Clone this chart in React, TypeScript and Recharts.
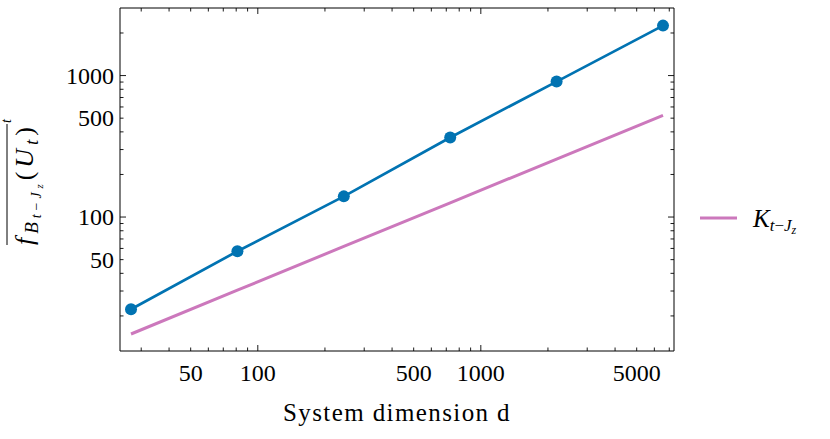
import React from 'react';
import { LineChart, Line, XAxis, YAxis, Legend } from 'recharts';

// system dimension d = 3^n
const dims = [27, 81, 243, 729, 2187, 6561];
const boundValues = [22.3, 57.3, 140, 365, 907, 2255];
const kValues = [14.9, 30.4, 62, 126, 257, 523];

const xTicks = [30, 40, 50, 60, 70, 80, 90, 100, 200, 300, 400, 500, 600, 700, 800, 900, 1000, 2000, 3000, 4000, 5000, 6000, 7000];
const xLabels = [50, 100, 500, 1000, 5000];
const yTicks = [20, 30, 40, 50, 60, 70, 80, 90, 100, 200, 300, 400, 500, 600, 700, 800, 900, 1000, 2000];
const yLabels = [50, 100, 500, 1000];
const majorTicks = [100, 1000];

const xDomain = [24.1, 7350];
const yDomain = [11.3, 3004];

const BLUE = '#0173B2';
const PINK = '#CC78BC';
const FONT = '"Liberation Serif", "Times New Roman", serif';

const data = dims.map((d, i) => ({ d, bound: boundValues[i], k: kValues[i] }));

const tickLen = (v: number) => (majorTicks.includes(v) ? 6 : 3.5);

const BottomTick = ({ x, y, payload }: any) => {
  const v = payload.value;
  return (
    <g>
      <line x1={x} x2={x} y1={y} y2={y - tickLen(v)} stroke="#000" strokeWidth={0.9} />
      {xLabels.includes(v) && (
        <text x={x} y={y + 30} textAnchor="middle" fontSize={24} fontFamily={FONT} fill="#000">
          {v}
        </text>
      )}
    </g>
  );
};

const TopTick = ({ x, y, payload }: any) => (
  <line x1={x} x2={x} y1={y} y2={y + tickLen(payload.value)} stroke="#000" strokeWidth={0.9} />
);

const LeftTick = ({ x, y, payload }: any) => {
  const v = payload.value;
  return (
    <g>
      <line x1={x} x2={x + tickLen(v)} y1={y} y2={y} stroke="#000" strokeWidth={0.9} />
      {yLabels.includes(v) && (
        <text x={x - 6} y={y + 8} textAnchor="end" fontSize={24} fontFamily={FONT} fill="#000">
          {v}
        </text>
      )}
    </g>
  );
};

const RightTick = ({ x, y, payload }: any) => (
  <line x1={x} x2={x - tickLen(payload.value)} y1={y} y2={y} stroke="#000" strokeWidth={0.9} />
);

const XTitle = () => (
  <text x={397} y={421} textAnchor="middle" fontSize={25} letterSpacing={1.4} fontFamily={FONT} fill="#000">
    System dimension d
  </text>
);

// overline{ f_{B_{t-J_z}}(U_t) }^t, rotated
const YTitle = () => (
  <g transform="translate(33,245) rotate(-90)" fontFamily={FONT} fill="#000">
    <text x={0} y={0} fontSize={26} fontStyle="italic" textLength={118} lengthAdjust="spacing">
      <tspan>f</tspan>
      <tspan fontSize={19} dy={5}>B</tspan>
      <tspan fontSize={14} dy={3}>t</tspan>
      <tspan fontSize={14} fontStyle="normal">−</tspan>
      <tspan fontSize={14}>J</tspan>
      <tspan fontSize={11} dy={2}>z</tspan>
      <tspan fontStyle="normal" dy={-10}>(</tspan>
      <tspan>U</tspan>
      <tspan fontSize={19} dy={5}>t</tspan>
      <tspan fontStyle="normal" dy={-5}>)</tspan>
    </text>
    <line x1={0} x2={121} y1={-26} y2={-26} stroke="#000" strokeWidth={1} />
    <text x={122} y={-22.5} fontSize={14} fontStyle="italic">t</text>
  </g>
);

const LegendContent = () => (
  <svg width={140} height={40}>
    <line x1={10} x2={47} y1={17} y2={17} stroke={PINK} strokeWidth={3} />
    <text x={63} y={26} fontFamily={FONT} fontSize={25} fontStyle="italic" fill="#000">
      K
      <tspan fontSize={17} dy={4}>t</tspan>
      <tspan fontSize={17} fontStyle="normal">−</tspan>
      <tspan fontSize={17}>J</tspan>
      <tspan fontSize={12} dy={3}>z</tspan>
    </text>
  </svg>
);

export default function App() {
  return (
    <div style={{ position: 'absolute', left: 0, top: 0, width: 830, height: 439, background: '#fff' }}>
      <LineChart
        width={830}
        height={439}
        data={data}
        margin={{ top: 7, right: 146, left: 60, bottom: 48 }}
      >
        <XAxis
          xAxisId="bottom"
          dataKey="d"
          type="number"
          scale="log"
          domain={xDomain}
          allowDataOverflow
          ticks={xTicks}
          interval={0}
          tickSize={0}
          tickMargin={0}
          tickLine={false}
          height={40}
          axisLine={{ stroke: '#000', strokeWidth: 1 }}
          tick={<BottomTick />}
          label={<XTitle />}
        />
        <XAxis
          xAxisId="top"
          orientation="top"
          dataKey="d"
          type="number"
          scale="log"
          domain={xDomain}
          allowDataOverflow
          ticks={xTicks}
          interval={0}
          tickSize={0}
          tickMargin={0}
          tickLine={false}
          height={1}
          axisLine={{ stroke: '#000', strokeWidth: 1 }}
          tick={<TopTick />}
        />
        <YAxis
          yAxisId="left"
          type="number"
          scale="log"
          domain={yDomain}
          allowDataOverflow
          ticks={yTicks}
          interval={0}
          tickSize={0}
          tickMargin={0}
          tickLine={false}
          width={60}
          axisLine={{ stroke: '#000', strokeWidth: 1 }}
          tick={<LeftTick />}
          label={<YTitle />}
        />
        <YAxis
          yAxisId="right"
          orientation="right"
          type="number"
          scale="log"
          domain={yDomain}
          allowDataOverflow
          ticks={yTicks}
          interval={0}
          tickSize={0}
          tickMargin={0}
          tickLine={false}
          width={10}
          axisLine={{ stroke: '#000', strokeWidth: 1 }}
          tick={<RightTick />}
        />
        <Legend
          layout="vertical"
          align="center"
          verticalAlign="middle"
          content={<LegendContent />}
          wrapperStyle={{ left: 690, top: 201, width: 140, height: 40 }}
        />
        <Line
          xAxisId="bottom"
          yAxisId="left"
          dataKey="k"
          name="K"
          stroke={PINK}
          strokeWidth={3}
          dot={false}
          isAnimationActive={false}
        />
        <Line
          xAxisId="bottom"
          yAxisId="left"
          dataKey="bound"
          stroke={BLUE}
          strokeWidth={2.7}
          dot={{ r: 6, fill: BLUE, stroke: BLUE, strokeWidth: 0 }}
          legendType="none"
          isAnimationActive={false}
        />
      </LineChart>
    </div>
  );
}
